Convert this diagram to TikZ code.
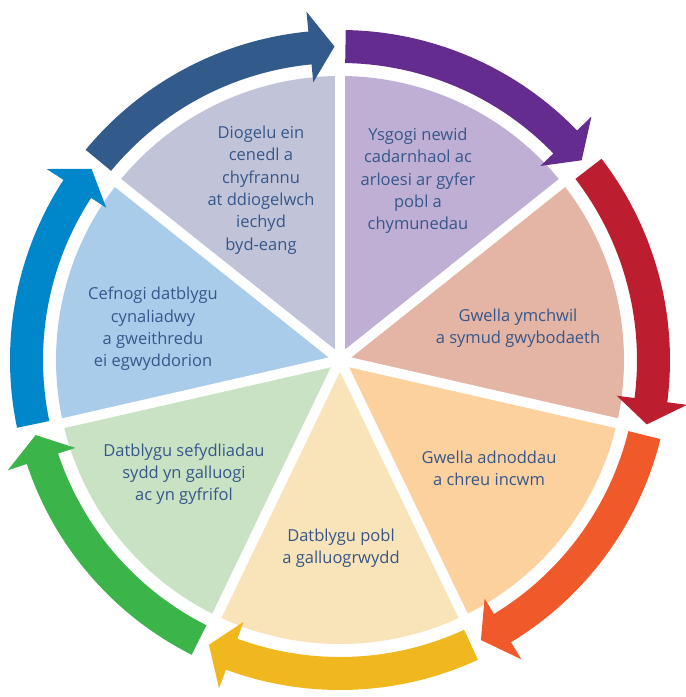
\documentclass[tikz,border=0pt]{standalone}
\usepackage{fontspec}
\setmainfont{Open Sans}
\definecolor{secYsgogi}{HTML}{BFAFD5}
\definecolor{secYmchwil}{HTML}{E4B4A5}
\definecolor{secAdnoddau}{HTML}{FDD19E}
\definecolor{secPobl}{HTML}{F8E4B8}
\definecolor{secSefydl}{HTML}{C8E2C3}
\definecolor{secCefnogi}{HTML}{AACCEB}
\definecolor{secDiogelu}{HTML}{C1C3D9}
\definecolor{arPurple}{HTML}{652C8F}
\definecolor{arRed}{HTML}{BD1E2F}
\definecolor{arOrange}{HTML}{F05A2A}
\definecolor{arYellow}{HTML}{F1B71F}
\definecolor{arGreen}{HTML}{3BB44A}
\definecolor{arBlue}{HTML}{0086CB}
\definecolor{arNavy}{HTML}{325B8B}
\definecolor{txtBlue}{HTML}{36578A}
\tikzset{
  wheeltext/.style={align=center, text=txtBlue, inner sep=0pt,
    font=\fontsize{16.5}{22.3}\selectfont},
}
\begin{document}
\begin{tikzpicture}[x=1pt, y=1pt]
  \useasboundingbox (-340,-337) rectangle (346,360);
  % pie sectors, clockwise from the top
  \foreach \col [count=\i] in {secYsgogi,secYmchwil,secAdnoddau,secPobl,secSefydl,secCefnogi,secDiogelu} {
    \pgfmathsetmacro\sa{90-(\i-1)*360/7}
    \pgfmathsetmacro\sb{90-\i*360/7}
    \fill[\col] (0,0) -- (\sa:284) arc[start angle=\sa, end angle=\sb, radius=284] -- cycle;
  }
  \foreach \i in {0,...,6}
    \draw[white, line width=10pt] (0,0) -- ({90-\i*360/7}:292);
  % ring of arrows
  \foreach \col [count=\i] in {arPurple,arRed,arOrange,arYellow,arGreen,arBlue,arNavy} {
    \pgfmathsetmacro\ta{90-(\i-1)*360/7-1}
    \pgfmathsetmacro\tb{90-\i*360/7+1}
    \pgfmathsetmacro\hb{\tb+4.5}
    \fill[\col] (\ta:330) arc[start angle=\ta, end angle=\hb, radius=330]
      -- (\hb:350) -- (\tb:313.5) -- (\hb:279) -- (\hb:297)
      arc[start angle=\hb, end angle=\ta, radius=297] -- cycle;
  }
  \node[wheeltext] (ysgogi) at (78,179) {Ysgogi newid\\cadarnhaol ac\\arloesi ar gyfer\\pobl a\\chymunedau};
  \node[wheeltext] (ymchwil) at (178,32) {Gwella ymchwil\\a symud gwybodaeth};
  \node[wheeltext] (adnoddau) at (149,-108) {Gwella adnoddau\\a chreu incwm};
  \node[wheeltext] (pobl) at (1,-188) {Datblygu pobl\\a galluogrwydd};
  \node[wheeltext] (sefydl) at (-156,-114) {Datblygu sefydliadau\\sydd yn galluogi\\ac yn gyfrifol};
  \node[wheeltext] (cefnogi) at (-187,31) {Cefnogi datblygu\\cynaliadwy\\a gweithredu\\ei egwyddorion};
  \node[wheeltext] (diogelu) at (-79,170) {Diogelu ein\\cenedl a\\chyfrannu\\at ddiogelwch\\iechyd\\byd-eang};
\end{tikzpicture}
\end{document}
